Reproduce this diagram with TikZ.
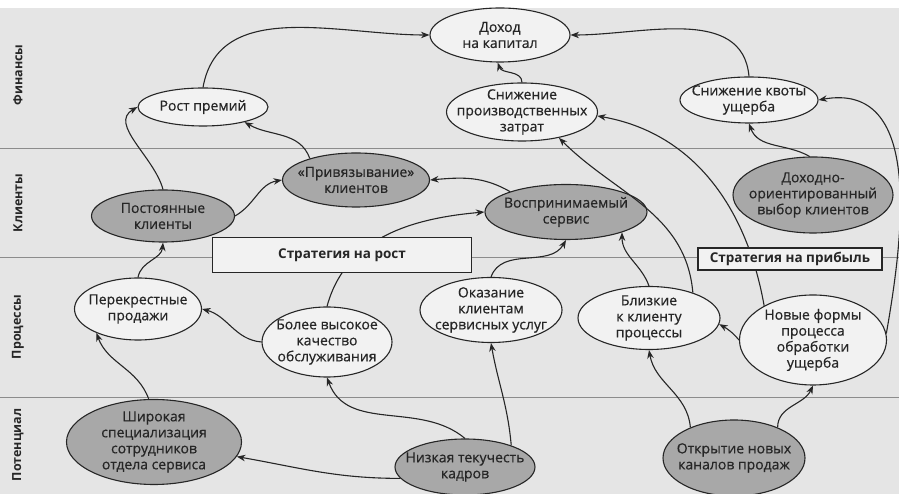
\documentclass[tikz,border=0pt]{standalone}
\usepackage{fontspec}
\setmainfont{Open Sans}
\newfontfamily\ovfont{Open Sans}[FakeBold=0.6]
\usetikzlibrary{shapes.geometric,arrows.meta}
\definecolor{pagebg}{gray}{0.90}
\definecolor{ovgray}{gray}{0.66}
\definecolor{ovwhite}{gray}{0.95}
\definecolor{inkc}{gray}{0.15}
\definecolor{lanec}{gray}{0.55}
\begin{document}
\begin{tikzpicture}[x=1pt,y=1pt,
  ov/.style={ellipse,draw=inkc,line width=1.1pt,inner sep=-90pt,align=center,
    fill=ovwhite,text=inkc,font=\ovfont\fontsize{14}{16}\selectfont},
  ovg/.style={ov,fill=ovgray},
  stratbox/.style={draw=inkc,line width=1.1pt,fill=ovwhite,inner sep=0pt,text=inkc,
    font=\bfseries\fontsize{13.5}{16}\selectfont},
  lane/.style={rotate=90,text=inkc,font=\bfseries\fontsize{12.5}{14}\selectfont},
  arr/.style={draw=inkc,line width=1.1pt,-{Stealth[length=8.5pt,width=6.5pt]}}]
 \useasboundingbox (0,0) rectangle (899,494);
 \fill[white] (0,0) rectangle (899,494);
 \fill[pagebg] (0,0) rectangle (899,486);
 % lanes
 \draw[lanec,line width=0.8pt] (0,346) -- (899,346);
 \draw[lanec,line width=0.8pt] (0,237) -- (899,237);
 \draw[lanec,line width=0.8pt] (0,97) -- (899,97);
 \node[lane] (finansy) at (18,419) {Финансы};
 \node[lane] (klienty) at (18,291) {Клиенты};
 \node[lane] (processy) at (18,167) {Процессы};
 \node[lane] (potencial) at (18,49) {Потенциал};
 % finance
 \node[ov,minimum width=140pt,minimum height=54pt] (dohod) at (500,459) {Доход\\на капитал};
 \node[ov,minimum width=130pt,minimum height=38pt] (rost) at (203,387) {Рост премий};
 \node[ov,minimum width=151pt,minimum height=58pt] (snizh) at (522,382) {Снижение\\производственных\\затрат};
 \node[ov,minimum width=138pt,minimum height=46pt] (kvota) at (749,394) {Снижение квоты\\ущерба};
 % clients
 \node[ovg,minimum width=143pt,minimum height=52pt] (post) at (163,278) {Постоянные\\клиенты};
 \node[ovg,minimum width=147pt,minimum height=54pt] (priv) at (356,314) {«Привязывание»\\клиентов};
 \node[ovg,minimum width=162pt,minimum height=55pt] (vospr) at (566,282) {Воспринимаемый\\сервис};
 \node[ovg,minimum width=160pt,minimum height=76pt] (dohodor) at (813,299) {Доходно-\\ориентированный\\выбор клиентов};
 % processes
 \node[ov,minimum width=127pt,minimum height=62pt] (perekr) at (138,185) {Перекрестные\\продажи};
 \node[ov,minimum width=130pt,minimum height=70pt] (kachestvo) at (327,152) {Более высокое\\качество\\обслуживания};
 \node[ov,minimum width=142pt,minimum height=65pt] (okaz) at (491,184) {Оказание\\клиентам\\сервисных услуг};
 \node[ov,minimum width=142pt,minimum height=63pt] (blizk) at (649,176) {Близкие\\к клиенту\\процессы};
 \node[ov,minimum width=147pt,minimum height=90pt] (novye) at (813,154) {Новые формы\\процесса\\обработки\\ущерба};
 % potential
 \node[ovg,minimum width=175pt,minimum height=85pt] (shirok) at (154,52) {Широкая\\специализация\\сотрудников\\отдела сервиса};
 \node[ovg,minimum width=140pt,minimum height=56pt] (nizk) at (465,27) {Низкая текучесть\\кадров};
 \node[ovg,minimum width=142pt,minimum height=76pt] (otkr) at (734,36) {Открытие новых\\каналов продаж};
 % links
 \draw[arr] (rost.north) to[out=80,in=180] (dohod.west);
 \draw[arr] (snizh.north) to[out=90,in=-70] (dohod.-95);
 \draw[arr] (kvota.north) to[out=95,in=0] (dohod.east);
 \draw[arr] (post.north) to[out=105,in=210] (rost.west);
 \draw[arr] (priv.155) to[out=110,in=-30] (rost.-20);
 \draw[arr] (post.east) to[out=30,in=190] (priv.west);
 \draw[arr] (vospr.160) to[out=150,in=5] (priv.east);
 \draw[arr] (kachestvo.north) to[out=75,in=185] (vospr.west);
 \draw[arr] (okaz.north) to[out=70,in=-120] (vospr.south);
 \draw[arr] (blizk.north) to[out=110,in=-90] (vospr.-20);
 \draw[arr] (blizk.30) to[out=95,in=-45] (snizh.-35);
 \draw[arr] (novye.145) to[out=100,in=-10] (snizh.-3);
 \draw[arr] (dohodor.95) to[out=150,in=-70] (kvota.south);
 \draw[arr] (novye.5) to[out=80,in=10,looseness=1.1] (kvota.east);
 \draw[arr] (novye.west) to[out=130,in=-30] (blizk.-5);
 \draw[arr] (perekr.north) to[out=80,in=-95] (post.south);
 \draw[arr] (kachestvo.west) to[out=175,in=-15] (perekr.east);
 \draw[arr] (shirok.97) to[out=110,in=-70] (perekr.-150);
 \draw[arr] (nizk.north) to[out=140,in=-70] (kachestvo.south);
 \draw[arr] (nizk.-170) to[out=180,in=-10] (shirok.-10);
 \draw[arr] (nizk.25) to[out=95,in=-80] (okaz.south);
 \draw[arr] (otkr.145) to[out=95,in=-80] (blizk.south);
 \draw[arr] (otkr.35) to[out=90,in=-115] (novye.south);
 % strategies
 \node[stratbox,minimum width=259pt,minimum height=35pt] (rostbox) at (342,239) {Стратегия на рост};
 \node[stratbox,minimum width=184pt,minimum height=22pt] (pribbox) at (790,235) {Стратегия на прибыль};
\end{tikzpicture}
\end{document}
